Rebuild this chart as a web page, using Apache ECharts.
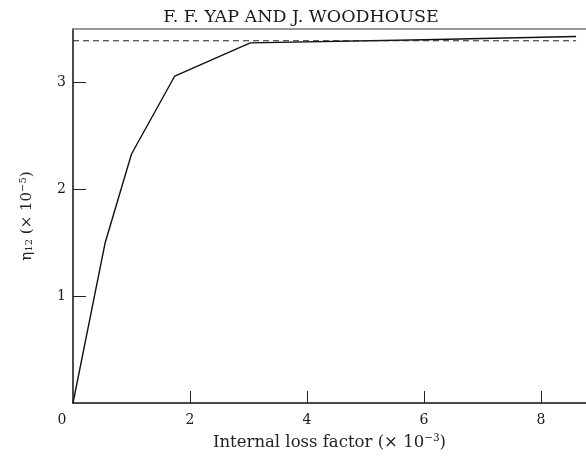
<!DOCTYPE html>
<html>
<head>
<meta charset="utf-8">
<script src="https://cdn.jsdelivr.net/npm/echarts@6/dist/echarts.min.js"></script>
<style>html,body{margin:0;padding:0;background:#fff}#c{width:586px;height:459px}</style>
</head>
<body>
<div id="c"></div>
<script>
var lossFactor = [0, 0.55, 1.0, 1.74, 3.03, 6.0, 8.6];
var eta12 = [0, 1.5, 2.33, 3.06, 3.37, 3.40, 3.43];
var limitX = [0, 8.6];
var limitY = [3.39, 3.39];
var xTicks = [2, 4, 6, 8];
var xLabels = [0, 2, 4, 6, 8];
var yTicks = [1, 2, 3];
var yLabels = [1, 2, 3];

var wide = '"DejaVu Serif", "Liberation Serif", serif';
var chart = echarts.init(document.getElementById('c'));
chart.setOption({
  animation: false,
  backgroundColor: '#fff',
  title: {
    text: 'F. F. YAP AND J. WOODHOUSE',
    left: 296, top: 3, textAlign: 'center',
    textStyle: {fontFamily: wide, fontSize: 17.5, fontWeight: 'normal', color: '#1a1a1a'}
  },
  grid: {left: 73, right: 0, top: 29, bottom: 56},
  xAxis: [{
    type: 'value', min: 0, max: 8.77, interval: 2,
    splitLine: {show: false},
    axisLine: {lineStyle: {color: '#111', width: 1.5}},
    axisTick: {inside: true, length: 12, customValues: xTicks, lineStyle: {color: '#222', width: 1}},
    axisLabel: {
      customValues: xLabels, margin: 10,
      fontFamily: wide, fontSize: 14, color: '#1a1a1a',
      formatter: function (v) { return v === 0 ? '{o|0}' : String(v); },
      rich: {o: {fontFamily: wide, fontSize: 14, color: '#1a1a1a', padding: [0, 22, 0, 0]}}
    },
    name: '{a|Internal loss factor (× 10}{s|−3}{a|)}',
    nameLocation: 'middle', nameGap: 30,
    nameTextStyle: {
      rich: {
        a: {fontFamily: wide, fontSize: 16.5, color: '#222'},
        s: {fontFamily: wide, fontSize: 10.5, color: '#222', verticalAlign: 'bottom', padding: [0, 0, 8, 0]}
      }
    }
  }, {
    type: 'value', position: 'top', min: 0, max: 8.77,
    splitLine: {show: false}, axisTick: {show: false}, axisLabel: {show: false},
    axisLine: {lineStyle: {color: '#777', width: 1.5}}
  }],
  yAxis: {
    type: 'value', min: 0, max: 3.5, interval: 1,
    splitLine: {show: false},
    axisLine: {lineStyle: {color: '#111', width: 1.5}},
    axisTick: {inside: true, length: 13, customValues: yTicks, lineStyle: {color: '#222', width: 1}},
    axisLabel: {customValues: yLabels, margin: 7, fontFamily: wide, fontSize: 14, color: '#1a1a1a'},
    name: '{a|η}{b|12}{a| (× 10}{s|−5}{a|)}',
    nameLocation: 'middle', nameGap: 37, nameRotate: 90,
    nameTextStyle: {
      rich: {
        a: {fontFamily: wide, fontSize: 15, color: '#222'},
        b: {fontFamily: wide, fontSize: 10, color: '#222', verticalAlign: 'top', padding: [6, 0, 0, 0]},
        s: {fontFamily: wide, fontSize: 10, color: '#222', verticalAlign: 'bottom', padding: [0, 0, 8, 0]}
      }
    }
  },
  series: [{
    type: 'line', symbol: 'none',
    data: lossFactor.map(function (x, i) { return [x, eta12[i]]; }),
    lineStyle: {color: '#111', width: 1.4}
  }, {
    type: 'line', symbol: 'none',
    data: limitX.map(function (x, i) { return [x, limitY[i]]; }),
    lineStyle: {color: '#222', width: 1, type: [6, 4]}
  }]
});
</script>
</body>
</html>
